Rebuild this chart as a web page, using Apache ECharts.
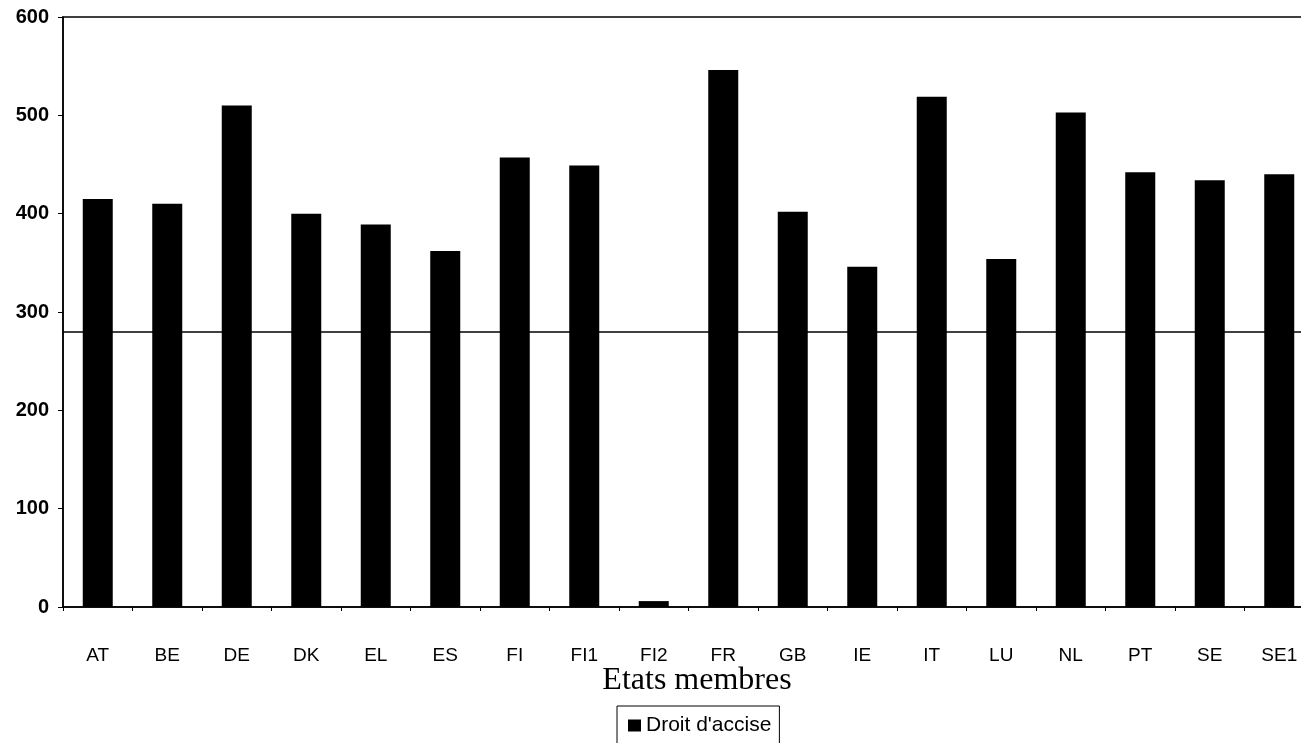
<!DOCTYPE html>
<html>
<head>
<meta charset="utf-8">
<script src="https://cdn.jsdelivr.net/npm/echarts@6/dist/echarts.min.js"></script>
<style>
html,body{margin:0;padding:0;background:#fff;}
#chart{width:1301px;height:743px;}
</style>
</head>
<body>
<div id="chart"></div>
<script>
const categories = ['AT','BE','DE','DK','EL','ES','FI','FI1','FI2','FR','GB','IE','IT','LU','NL','PT','SE','SE1'];
const droitAccise = [415,410,510,400,389,362,457,449,6,546,402,346,519,354,503,442,434,440];
const seuil = 280;
const yTicks = [0,100,200,300,400,500,600];
const seriesName = "Droit d'accise";
const xAxisTitle = 'Etats membres';

const chart = echarts.init(document.getElementById('chart'), null, {renderer:'canvas'});
chart.setOption({
  animation:false,
  backgroundColor:'#fff',
  grid:{left:63, top:17, width:1251, bottom:136, outerBoundsMode:'none', containLabel:false,
        show:true, borderColor:'#000', borderWidth:1.5},
  xAxis:{
    type:'category', data:categories,
    axisLine:{lineStyle:{color:'#000', width:1.5}},
    axisTick:{show:true, length:4, lineStyle:{color:'#000'}},
    axisLabel:{color:'#000', fontFamily:'Liberation Sans', fontSize:19, margin:39}
  },
  yAxis:{
    type:'value', min:yTicks[0], max:yTicks[yTicks.length-1], interval:100,
    splitLine:{show:false},
    axisLine:{show:true, lineStyle:{color:'#000', width:1.5}},
    axisTick:{show:true, length:5, lineStyle:{color:'#000'}},
    axisLabel:{color:'#000', fontFamily:'Liberation Sans', fontWeight:'bold', fontSize:20, margin:14}
  },
  legend:{
    data:[seriesName], left:617, top:706,
    itemWidth:13, itemHeight:12, itemGap:4, icon:'rect',
    padding:[9,8,30,11], borderColor:'#000', borderWidth:1,
    textStyle:{color:'#000', fontFamily:'Liberation Sans', fontSize:21}
  },
  graphic:[{
    type:'text', x:697, y:681,
    style:{text:xAxisTitle, fill:'#000', font:'32px "Liberation Serif"', textAlign:'center', textVerticalAlign:'middle'}
  }],
  series:[{
    name:seriesName, type:'bar', data:droitAccise, barWidth:30,
    itemStyle:{color:'#000'},
    markLine:{
      silent:true, symbol:'none', label:{show:false},
      lineStyle:{color:'#000', type:'solid', width:1.5},
      data:[{yAxis:seuil}]
    }
  }]
});
</script>
</body>
</html>
